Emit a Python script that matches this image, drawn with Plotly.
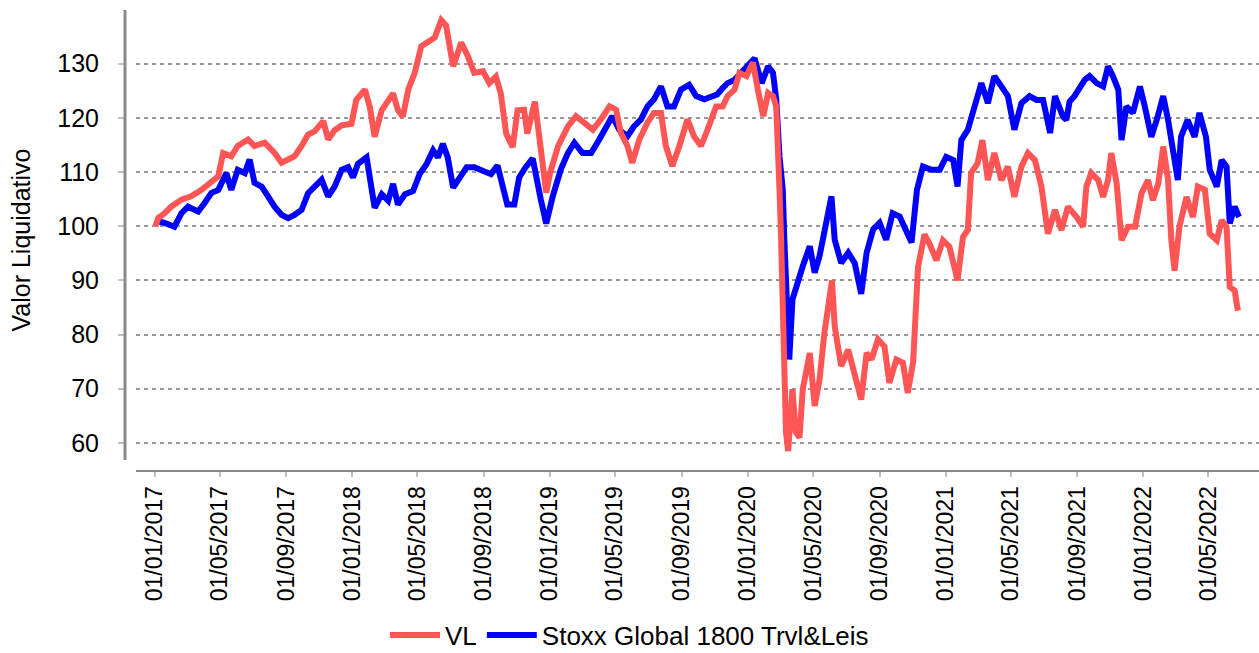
import plotly.graph_objects as go

FONT = 'Liberation Sans, Arial, sans-serif'

# --- data (base 100 on 02/01/2017) ---
vl_dates = [
    '2017-01-02', '2017-01-07', '2017-01-19', '2017-01-31', '2017-02-19', '2017-03-09', '2017-03-28',
    '2017-04-15', '2017-04-28', '2017-05-07', '2017-05-22', '2017-06-03', '2017-06-22', '2017-07-04',
    '2017-07-23', '2017-08-10', '2017-08-23', '2017-09-04', '2017-09-16', '2017-09-29', '2017-10-11',
    '2017-10-23', '2017-11-08', '2017-11-17', '2017-11-29', '2017-12-12', '2017-12-30', '2018-01-08',
    '2018-01-24', '2018-02-02', '2018-02-11', '2018-02-24', '2018-03-08', '2018-03-17', '2018-03-26',
    '2018-04-04', '2018-04-14', '2018-04-26', '2018-05-08', '2018-05-20', '2018-06-02', '2018-06-14',
    '2018-06-23', '2018-07-06', '2018-07-21', '2018-08-02', '2018-08-14', '2018-08-30', '2018-09-11',
    '2018-09-23', '2018-10-02', '2018-10-12', '2018-10-24', '2018-11-02', '2018-11-14', '2018-11-20',
    '2018-11-30', '2018-12-04', '2018-12-12', '2018-12-21', '2018-12-25', '2019-01-01', '2019-01-16',
    '2019-02-03', '2019-02-18', '2019-03-05', '2019-03-21', '2019-04-05', '2019-04-21', '2019-05-03',
    '2019-05-12', '2019-05-24', '2019-06-02', '2019-06-15', '2019-06-30', '2019-07-12', '2019-07-25',
    '2019-08-03', '2019-08-15', '2019-08-28', '2019-09-12', '2019-09-24', '2019-10-07', '2019-10-19',
    '2019-11-04', '2019-11-16', '2019-11-25', '2019-12-08', '2019-12-17', '2019-12-30', '2020-01-11',
    '2020-01-20', '2020-01-30', '2020-02-08', '2020-02-17', '2020-02-23', '2020-02-26', '2020-02-29',
    '2020-03-03', '2020-03-06', '2020-03-09', '2020-03-12', '2020-03-16', '2020-03-20', '2020-03-24',
    '2020-03-30', '2020-04-06', '2020-04-12', '2020-04-25', '2020-05-04', '2020-05-13', '2020-05-22',
    '2020-06-05', '2020-06-10', '2020-06-22', '2020-07-05', '2020-07-17', '2020-07-29', '2020-08-08',
    '2020-08-17', '2020-08-29', '2020-09-10', '2020-09-19', '2020-10-02', '2020-10-14', '2020-10-23',
    '2020-11-02', '2020-11-06', '2020-11-11', '2020-11-23', '2020-12-02', '2020-12-15', '2020-12-27',
    '2021-01-08', '2021-01-23', '2021-02-02', '2021-02-11', '2021-02-17', '2021-03-01', '2021-03-10',
    '2021-03-20', '2021-04-01', '2021-04-14', '2021-04-26', '2021-05-08', '2021-05-21', '2021-06-02',
    '2021-06-15', '2021-06-27', '2021-07-09', '2021-07-22', '2021-08-03', '2021-08-15', '2021-08-31',
    '2021-09-12', '2021-09-18', '2021-09-27', '2021-10-10', '2021-10-19', '2021-10-28', '2021-11-03',
    '2021-11-13', '2021-11-22', '2021-12-04', '2021-12-17', '2021-12-29', '2022-01-10', '2022-01-19',
    '2022-01-29', '2022-02-07', '2022-02-16', '2022-02-22', '2022-02-28', '2022-03-09', '2022-03-22',
    '2022-04-03', '2022-04-12', '2022-04-25', '2022-05-04', '2022-05-17', '2022-05-26', '2022-06-04',
    '2022-06-10', '2022-06-19', '2022-06-25',
]
vl = [
    100.0, 101.5, 102.4, 103.6, 104.9, 105.5, 106.7,
    108.3, 109.2, 113.5, 112.9, 114.8, 116.0, 114.8,
    115.4, 113.5, 111.7, 112.3, 112.9, 114.8, 116.9,
    117.5, 119.4, 116.0, 117.7, 118.6, 118.9, 123.3,
    125.2, 122.0, 116.5, 121.4, 123.3, 124.5, 121.4,
    120.2, 125.2, 128.3, 133.2, 133.9, 134.8, 138.0,
    137.0, 129.5, 133.9, 131.4, 128.3, 128.6, 126.4,
    127.6, 124.5, 117.1, 114.6, 121.4, 121.5, 117.1,
    121.4, 123.0, 116.6, 108.6, 106.2, 109.8, 114.8,
    118.4, 120.3, 119.1, 117.8, 119.7, 122.1, 121.5,
    117.2, 114.8, 111.7, 116.0, 119.1, 120.9, 120.9,
    114.8, 111.1, 114.8, 119.7, 116.6, 114.8, 117.8,
    122.1, 122.1, 124.0, 125.2, 128.3, 127.7, 130.2,
    125.2, 120.3, 124.6, 124.0, 122.1, 116.0, 106.8,
    97.5, 85.2, 72.9, 62.0, 58.5, 63.7, 69.9,
    62.0, 61.0, 69.9, 76.6, 66.8, 71.7, 80.3,
    90.0, 81.5, 74.2, 77.2, 72.3, 68.0, 76.6,
    75.4, 79.1, 77.8, 71.1, 75.4, 74.8, 69.2,
    75.0, 85.0, 92.5, 98.5, 96.8, 93.7, 97.4,
    96.2, 90.0, 98.0, 99.3, 109.8, 111.6, 115.9,
    108.5, 113.5, 108.5, 111.0, 105.4, 111.0, 113.5,
    112.2, 107.3, 98.6, 103.0, 99.3, 103.6, 101.7,
    99.9, 107.3, 109.8, 108.5, 105.4, 108.5, 113.5,
    107.9, 97.4, 99.9, 99.9, 106.1, 108.5, 104.8,
    107.9, 114.7, 108.5, 97.4, 91.8, 99.9, 105.4,
    101.7, 107.3, 106.7, 98.6, 97.4, 101.1, 99.9,
    88.8, 88.1, 84.4,
]

idx_dates = [
    '2017-01-02', '2017-01-13', '2017-01-19', '2017-02-06', '2017-02-19', '2017-03-03', '2017-03-22',
    '2017-04-03', '2017-04-15', '2017-04-28', '2017-05-13', '2017-05-22', '2017-06-03', '2017-06-16',
    '2017-06-25', '2017-07-04', '2017-07-17', '2017-07-29', '2017-08-10', '2017-08-23', '2017-09-04',
    '2017-09-16', '2017-09-29', '2017-10-11', '2017-10-23', '2017-11-05', '2017-11-17', '2017-11-29',
    '2017-12-12', '2017-12-24', '2018-01-02', '2018-01-11', '2018-01-27', '2018-02-05', '2018-02-11',
    '2018-02-24', '2018-03-08', '2018-03-17', '2018-03-26', '2018-04-08', '2018-04-23', '2018-05-05',
    '2018-05-18', '2018-05-30', '2018-06-08', '2018-06-17', '2018-06-26', '2018-07-06', '2018-07-18',
    '2018-07-31', '2018-08-14', '2018-08-30', '2018-09-14', '2018-09-26', '2018-10-05', '2018-10-14',
    '2018-10-27', '2018-11-05', '2018-11-17', '2018-11-30', '2018-12-15', '2018-12-25', '2019-01-06',
    '2019-01-21', '2019-02-03', '2019-02-15', '2019-03-02', '2019-03-18', '2019-04-02', '2019-04-17',
    '2019-04-26', '2019-05-09', '2019-05-24', '2019-06-05', '2019-06-18', '2019-06-30', '2019-07-12',
    '2019-07-25', '2019-08-06', '2019-08-18', '2019-08-31', '2019-09-15', '2019-09-28', '2019-10-13',
    '2019-10-25', '2019-11-06', '2019-11-16', '2019-11-25', '2019-12-08', '2019-12-20', '2020-01-02',
    '2020-01-14', '2020-01-27', '2020-02-08', '2020-02-17', '2020-02-23', '2020-02-29', '2020-03-06',
    '2020-03-09', '2020-03-12', '2020-03-18', '2020-03-24', '2020-04-03', '2020-04-12', '2020-04-25',
    '2020-05-04', '2020-05-13', '2020-05-22', '2020-06-04', '2020-06-10', '2020-06-22', '2020-07-05',
    '2020-07-17', '2020-07-29', '2020-08-08', '2020-08-20', '2020-09-01', '2020-09-13', '2020-09-25',
    '2020-10-08', '2020-10-20', '2020-10-30', '2020-11-09', '2020-11-20', '2020-12-06', '2020-12-21',
    '2021-01-02', '2021-01-15', '2021-01-23', '2021-01-30', '2021-02-11', '2021-02-23', '2021-03-08',
    '2021-03-20', '2021-04-01', '2021-04-14', '2021-04-26', '2021-05-08', '2021-05-21', '2021-06-05',
    '2021-06-18', '2021-06-30', '2021-07-13', '2021-07-22', '2021-08-06', '2021-08-12', '2021-08-18',
    '2021-08-27', '2021-09-15', '2021-09-24', '2021-10-07', '2021-10-19', '2021-10-28', '2021-11-06',
    '2021-11-16', '2021-11-22', '2021-12-01', '2021-12-13', '2021-12-26', '2022-01-04', '2022-01-16',
    '2022-01-26', '2022-02-07', '2022-02-16', '2022-02-25', '2022-03-06', '2022-03-12', '2022-03-24',
    '2022-04-06', '2022-04-15', '2022-04-27', '2022-05-04', '2022-05-17', '2022-05-26', '2022-06-04',
    '2022-06-10', '2022-06-19', '2022-06-27',
]
idx = [
    101.0, 100.9, 100.6, 99.9, 102.4, 103.6, 102.7,
    104.3, 106.1, 106.7, 109.8, 106.7, 110.4, 109.8,
    112.3, 108.0, 107.3, 105.5, 103.6, 102.1, 101.5,
    102.1, 103.0, 106.1, 107.3, 108.6, 105.5, 107.3,
    110.4, 110.9, 109.0, 111.5, 112.7, 106.5, 103.4,
    105.9, 104.7, 107.8, 104.0, 105.9, 106.5, 109.6,
    111.5, 114.0, 112.7, 115.2, 112.7, 107.1, 109.0,
    110.9, 110.9, 110.2, 109.6, 111.2, 107.8, 104.0,
    104.0, 109.0, 110.9, 112.5, 104.9, 100.5, 105.5,
    110.5, 113.5, 115.4, 113.5, 113.5, 116.0, 118.4,
    120.3, 117.8, 116.6, 118.4, 119.7, 122.1, 123.4,
    125.8, 122.1, 122.1, 125.2, 126.1, 124.0, 123.4,
    124.0, 124.3, 125.5, 126.4, 127.0, 128.3, 129.5,
    131.0, 126.4, 129.5, 128.3, 123.4, 112.9, 106.8,
    97.5, 88.3, 75.4, 86.5, 90.1, 92.6, 96.3,
    91.4, 94.5, 99.4, 105.5, 97.5, 93.2, 95.1,
    93.2, 87.5, 95.1, 99.4, 100.6, 97.5, 102.4,
    101.8, 98.8, 97.0, 106.7, 111.0, 110.4, 110.4,
    112.8, 112.2, 107.3, 115.9, 117.8, 122.1, 126.4,
    122.7, 127.7, 125.8, 124.0, 117.8, 122.7, 124.0,
    123.3, 123.3, 117.2, 124.0, 120.2, 119.6, 123.0,
    124.0, 127.0, 127.7, 126.4, 125.8, 129.5, 127.7,
    125.2, 115.9, 122.1, 120.9, 125.8, 122.1, 116.5,
    119.6, 124.0, 119.6, 114.7, 108.5, 116.5, 119.6,
    116.5, 120.9, 116.5, 110.4, 107.3, 112.2, 111.0,
    100.5, 103.6, 101.7,
]

fig = go.Figure()
fig.add_trace(go.Scatter(x=idx_dates, y=idx, mode='lines', name='Stoxx Global 1800 Trvl&Leis',
                         line=dict(color='#0000ff', width=6), legendrank=2))
fig.add_trace(go.Scatter(x=vl_dates, y=vl, mode='lines', name='VL',
                         line=dict(color='#ff5555', width=6), legendrank=1))

# y axis line sits a little left of the plot area, stopping short of the x axis
fig.add_shape(type='line', xref='paper', yref='paper', x0=0, x1=0, y0=10 / 460, y1=1,
              line=dict(color='#888888', width=3))

fig.update_layout(
    width=1259, height=653, autosize=False,
    font=dict(family=FONT, color='black'),
    plot_bgcolor='white', paper_bgcolor='white',
    margin=dict(l=125, r=0, t=10, b=183),
    showlegend=True,
    legend=dict(orientation='h', xref='container', yref='container', x=0.5, xanchor='center',
                y=1 - 635 / 653, yanchor='middle', font=dict(size=26), itemwidth=50),
    xaxis=dict(type='date', range=['2016-11-27', '2022-08-03'], domain=[11 / 1134, 1],
               tick0='2017-01-01', dtick='M4', tickformat='%d/%m/%Y', tickangle=-90,
               ticks='outside', ticklen=5, tickcolor='#c0c0c0', tickwidth=2,
               showline=True, linecolor='#888888', linewidth=2,
               showgrid=False, zeroline=False, tickfont=dict(size=23)),
    yaxis=dict(range=[55, 139.9], tick0=0, dtick=10, anchor='free', position=0,
               ticks='outside', ticklen=7, tickcolor='#c0c0c0', tickwidth=2,
               ticklabelstandoff=14, showline=False, zeroline=False,
               showgrid=True, gridcolor='#999999', gridwidth=1.5, griddash='4px,4px',
               tickfont=dict(size=25),
               title=dict(text='Valor Liquidativo', font=dict(size=25), standoff=18)),
)

fig.write_html('out.html', config={'displayModeBar': False},
               post_script="document.body.style.margin='0';")
